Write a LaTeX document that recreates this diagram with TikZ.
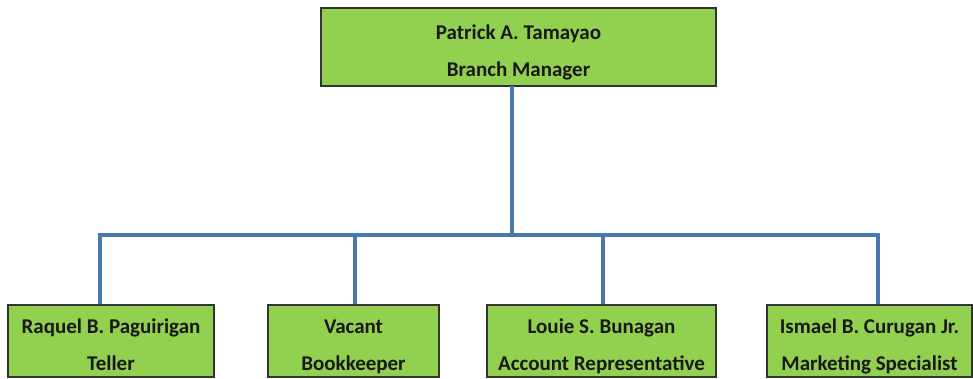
\documentclass[tikz,border=0pt]{standalone}
\usepackage{fontspec}
\setmainfont{Carlito}
% struts that fix the height of the first line and the depth of the last
\newcommand{\firstln}{\rule{0pt}{26pt}}
\newcommand{\lastln}{\rule[-5pt]{0pt}{5pt}}
\begin{document}
\begin{tikzpicture}[x=1pt,y=-1pt,
  box/.style={draw=black!80,line width=1.3pt,fill=boxgreen,rectangle,inner sep=0pt,
    align=center,font=\fontsize{21}{37}\selectfont\bfseries,text=black!90},
  conn/.style={draw=linkblue,line width=4.5pt,line cap=butt,line join=miter}]
\definecolor{boxgreen}{HTML}{92D050}
\definecolor{linkblue}{HTML}{4A78B0}
\useasboundingbox (0,0) rectangle (973,378);

% manager
\node[box,minimum width=395pt,minimum height=78pt] (top) at (518.5,47)
  {\firstln Patrick A. Tamayao\\Branch Manager\lastln};

% staff
\node[box,minimum width=206pt,minimum height=72pt] (c1) at (111,341)
  {\firstln Raquel B. Paguirigan\\Teller\lastln};
\node[box,minimum width=171pt,minimum height=72pt] (c2) at (353.5,341)
  {\firstln Vacant\\Bookkeeper\lastln};
\node[box,minimum width=229pt,minimum height=72pt] (c3) at (601.5,341)
  {\firstln Louie S. Bunagan\\Account Representative\lastln};
\node[box,minimum width=205pt,minimum height=72pt] (c4) at (869.5,341)
  {\firstln Ismael B. Curugan Jr.\\Marketing Specialist\lastln};

% connector bus
\coordinate (root) at (512,86);
\coordinate (busL) at (100,235);
\coordinate (busR) at (878,235);
\coordinate (d2) at (355,235);
\coordinate (d3) at (603,235);

\draw[conn] (root) -- (root |- busL);
\draw[conn] ([xshift=-2.25pt]busL) -- ([xshift=2.25pt]busR);
\draw[conn] (busL) -- (busL |- c1.north);
\draw[conn] (d2) -- (d2 |- c2.north);
\draw[conn] (d3) -- (d3 |- c3.north);
\draw[conn] (busR) -- (busR |- c4.north);
\end{tikzpicture}
\end{document}
